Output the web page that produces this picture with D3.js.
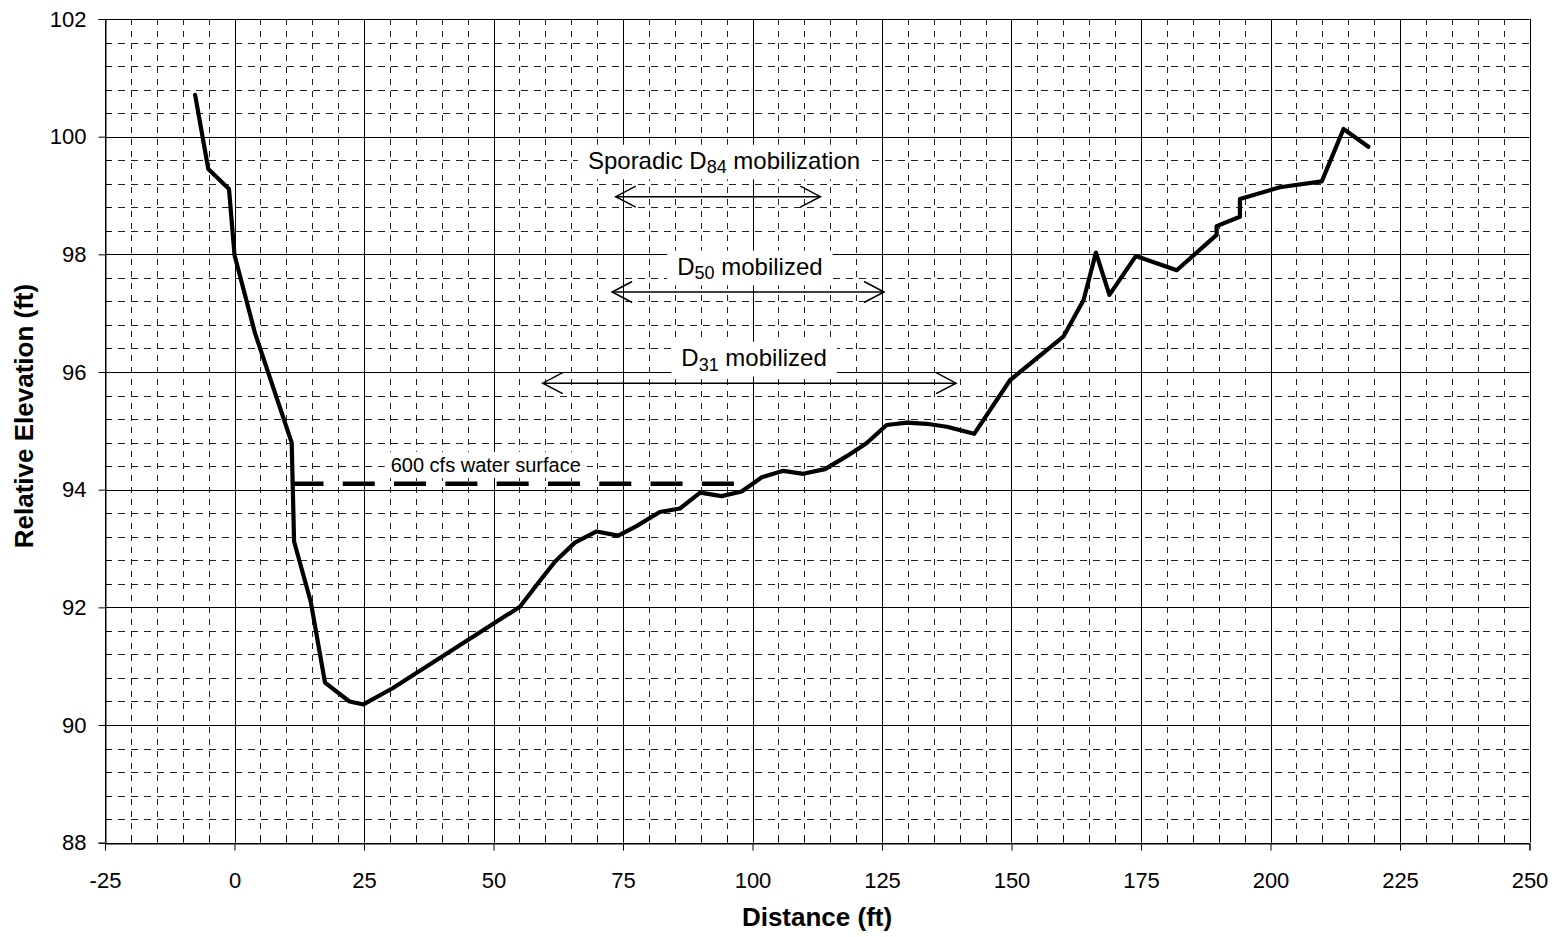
<!DOCTYPE html>
<html>
<head>
<meta charset="utf-8">
<script src="https://cdn.jsdelivr.net/npm/d3@7"></script>
<style>
  html, body { margin: 0; padding: 0; background: #fff; }
  svg { display: block; font-family: Arial, "Liberation Sans", sans-serif; }
</style>
</head>
<body>
<svg id="chart" width="1557" height="937"></svg>
<script>
// ---- Data ----
const distance = [-7.6, -5.06, -1.06, 0, 3.96, 11.04, 11.5, 14.71, 17.47, 22.2, 24.9, 30.6, 55.1, 59.3, 61.9, 65.7, 69.9, 74.1, 77.6, 82.1, 86.0, 89.9, 94.05, 97.9, 101.8, 105.95, 109.8, 114.0, 118.2, 122.0, 125.9, 129.8, 133.6, 137.5, 142.8, 149.7, 160.0, 163.9, 166.3, 168.9, 174.0, 181.9, 189.6, 189.6, 194.1, 194.1, 201.8, 209.9, 214.1, 218.9];
const elevation = [100.71, 99.45, 99.11, 97.99, 96.66, 94.80, 93.12, 92.10, 90.72, 90.40, 90.35, 90.63, 92.01, 92.49, 92.78, 93.10, 93.29, 93.22, 93.38, 93.62, 93.68, 93.95, 93.89, 93.97, 94.21, 94.32, 94.27, 94.35, 94.57, 94.79, 95.10, 95.14, 95.12, 95.07, 94.95, 95.86, 96.60, 97.22, 98.03, 97.31, 97.97, 97.73, 98.33, 98.48, 98.64, 98.94, 99.14, 99.24, 100.13, 99.83];

const waterSurfaceX = [11.0, 96.6];
const waterSurfaceY = [94.1, 94.1];
const waterLabel = "600 cfs water surface";

const mobLabelPre = ["Sporadic D", "D", "D"];
const mobLabelSub = ["84", "50", "31"];
const mobLabelPost = [" mobilization", " mobilized", " mobilized"];
const mobStart = [73.6, 72.9, 59.5];
const mobEnd = [113.1, 125.4, 139.3];
const mobElev = [98.98, 97.36, 95.81];
const mobLabelX = [94.5, 99.5, 100.3];
const mobLabelElev = [99.6, 97.8, 96.25];

const xTicks = [-25, 0, 25, 50, 75, 100, 125, 150, 175, 200, 225, 250];
const yTicks = [88, 90, 92, 94, 96, 98, 100, 102];
const xTitle = "Distance (ft)";
const yTitle = "Relative Elevation (ft)";

// ---- Layout ----
const svg = d3.select("#chart");
const x = d3.scaleLinear().domain([-25, 250]).range([105, 1529.5]);
const y = d3.scaleLinear().domain([88, 102]).range([842.7, 19]);

const crisp = v => Math.round(v) + 0.5;

const xMinor = d3.range(-25, 250.01, 5).filter(v => Math.abs(v % 25) > 1e-6);
const yMinor = d3.range(88, 102.001, 0.4).map(v => +v.toFixed(1)).filter(v => Math.abs(v % 2) > 1e-6);

const grid = svg.append("g");
grid.selectAll(".hminor").data(yMinor).enter().append("line")
  .attr("x1", x(-25)).attr("x2", x(250))
  .attr("y1", d => crisp(y(d))).attr("y2", d => crisp(y(d)))
  .attr("stroke", "#222").attr("stroke-width", 1).attr("stroke-dasharray", "7,6");
grid.selectAll(".vminor").data(xMinor).enter().append("line")
  .attr("x1", d => crisp(x(d))).attr("x2", d => crisp(x(d)))
  .attr("y1", y(102)).attr("y2", y(88))
  .attr("stroke", "#222").attr("stroke-width", 1).attr("stroke-dasharray", "6,6");

grid.selectAll(".hmajor").data(yTicks).enter().append("line")
  .attr("x1", x(-25)).attr("x2", x(250))
  .attr("y1", d => crisp(y(d))).attr("y2", d => crisp(y(d)))
  .attr("stroke", "#000").attr("stroke-width", 1);
grid.selectAll(".vmajor").data(xTicks).enter().append("line")
  .attr("x1", d => crisp(x(d))).attr("x2", d => crisp(x(d)))
  .attr("y1", y(102)).attr("y2", y(88))
  .attr("stroke", "#000").attr("stroke-width", 1);

// axes
const xAxis = d3.axisBottom(x).tickValues(xTicks).tickSize(7).tickPadding(22).tickFormat(d3.format("d"));
const gx = svg.append("g").attr("transform", `translate(0,${crisp(y(88))})`).call(xAxis);
const yAxis = d3.axisLeft(y).tickValues(yTicks).tickSize(7).tickPadding(12).tickFormat(d3.format("d"));
const gy = svg.append("g").attr("transform", `translate(${crisp(x(-25))},0)`).call(yAxis);
[gx, gy].forEach(g => {
  g.select(".domain").attr("stroke", "#000");
  g.selectAll(".tick line").attr("stroke", "#000");
  g.selectAll("text").attr("font-size", 22).attr("fill", "#000")
    .attr("font-family", "Arial, 'Liberation Sans', sans-serif");
});
gx.selectAll("text").text(d => d < 0 ? "-" + Math.abs(d) : d);

const minorTicks = svg.append("g");
minorTicks.selectAll(".mx").data(xMinor).enter().append("line")
  .attr("x1", d => crisp(x(d))).attr("x2", d => crisp(x(d)))
  .attr("y1", y(88)).attr("y2", y(88) - 6).attr("stroke", "#000");
minorTicks.selectAll(".my").data(yMinor).enter().append("line")
  .attr("y1", d => crisp(y(d))).attr("y2", d => crisp(y(d)))
  .attr("x1", x(-25)).attr("x2", x(-25) + 6).attr("stroke", "#000");

// titles
svg.append("text").attr("x", 817).attr("y", 926)
  .attr("text-anchor", "middle").attr("font-weight", "bold").attr("font-size", 26)
  .text(xTitle);
svg.append("text").attr("transform", `translate(33,416) rotate(-90)`)
  .attr("text-anchor", "middle").attr("font-weight", "bold").attr("font-size", 26)
  .text(yTitle);

function label(g, cx, cy, parts, size, padX, padY) {
  const bg = g.append("rect").attr("fill", "#fff");
  const t = g.append("text").attr("x", cx).attr("y", cy).attr("text-anchor", "middle")
    .attr("dominant-baseline", "central").attr("font-size", size).attr("fill", "#000");
  parts.forEach(p => {
    if (p.sub) {
      t.append("tspan").attr("dy", size * 0.3).attr("font-size", size * 0.75).text(p.text);
    } else {
      const ts = t.append("tspan").text(p.text);
      if (p.after) ts.attr("dy", -size * 0.3);
    }
  });
  const bb = t.node().getBBox();
  bg.attr("x", bb.x - padX).attr("y", bb.y - padY).attr("width", bb.width + 2 * padX).attr("height", bb.height + 2 * padY);
}

const ann = svg.append("g");
for (let i = 0; i < mobStart.length; i++) {
  label(ann, x(mobLabelX[i]), y(mobLabelElev[i]),
    [{text: mobLabelPre[i]}, {text: mobLabelSub[i], sub: true}, {text: mobLabelPost[i], after: true}], 24, 10, 2);
}
label(ann, x(48.5), y(94.42), [{text: waterLabel}], 20, 6, 2);

const arrows = svg.append("g").attr("stroke", "#000").attr("fill", "none").attr("stroke-width", 1.5);
for (let i = 0; i < mobStart.length; i++) {
  const x0 = x(mobStart[i]), x1 = x(mobEnd[i]), yy = y(mobElev[i]);
  arrows.append("line").attr("x1", x0).attr("x2", x1).attr("y1", yy).attr("y2", yy);
  arrows.append("path").attr("d", `M${x0 + 20},${yy - 10.5}L${x0},${yy}L${x0 + 20},${yy + 10.5}`);
  arrows.append("path").attr("d", `M${x1 - 20},${yy - 10.5}L${x1},${yy}L${x1 - 20},${yy + 10.5}`);
}

const ws = waterSurfaceX.map((d, i) => [d, waterSurfaceY[i]]);
svg.append("path").datum(ws)
  .attr("d", d3.line().x(d => x(d[0])).y(d => y(d[1])))
  .attr("stroke", "#000").attr("stroke-width", 4.5).attr("fill", "none")
  .attr("stroke-dasharray", "32,19.3");

const prof = distance.map((d, i) => [d, elevation[i]]);
svg.append("path").datum(prof)
  .attr("d", d3.line().x(d => x(d[0])).y(d => y(d[1])))
  .attr("stroke", "#000").attr("stroke-width", 4.2).attr("fill", "none")
  .attr("stroke-linejoin", "round").attr("stroke-linecap", "round");
</script>
</body>
</html>
